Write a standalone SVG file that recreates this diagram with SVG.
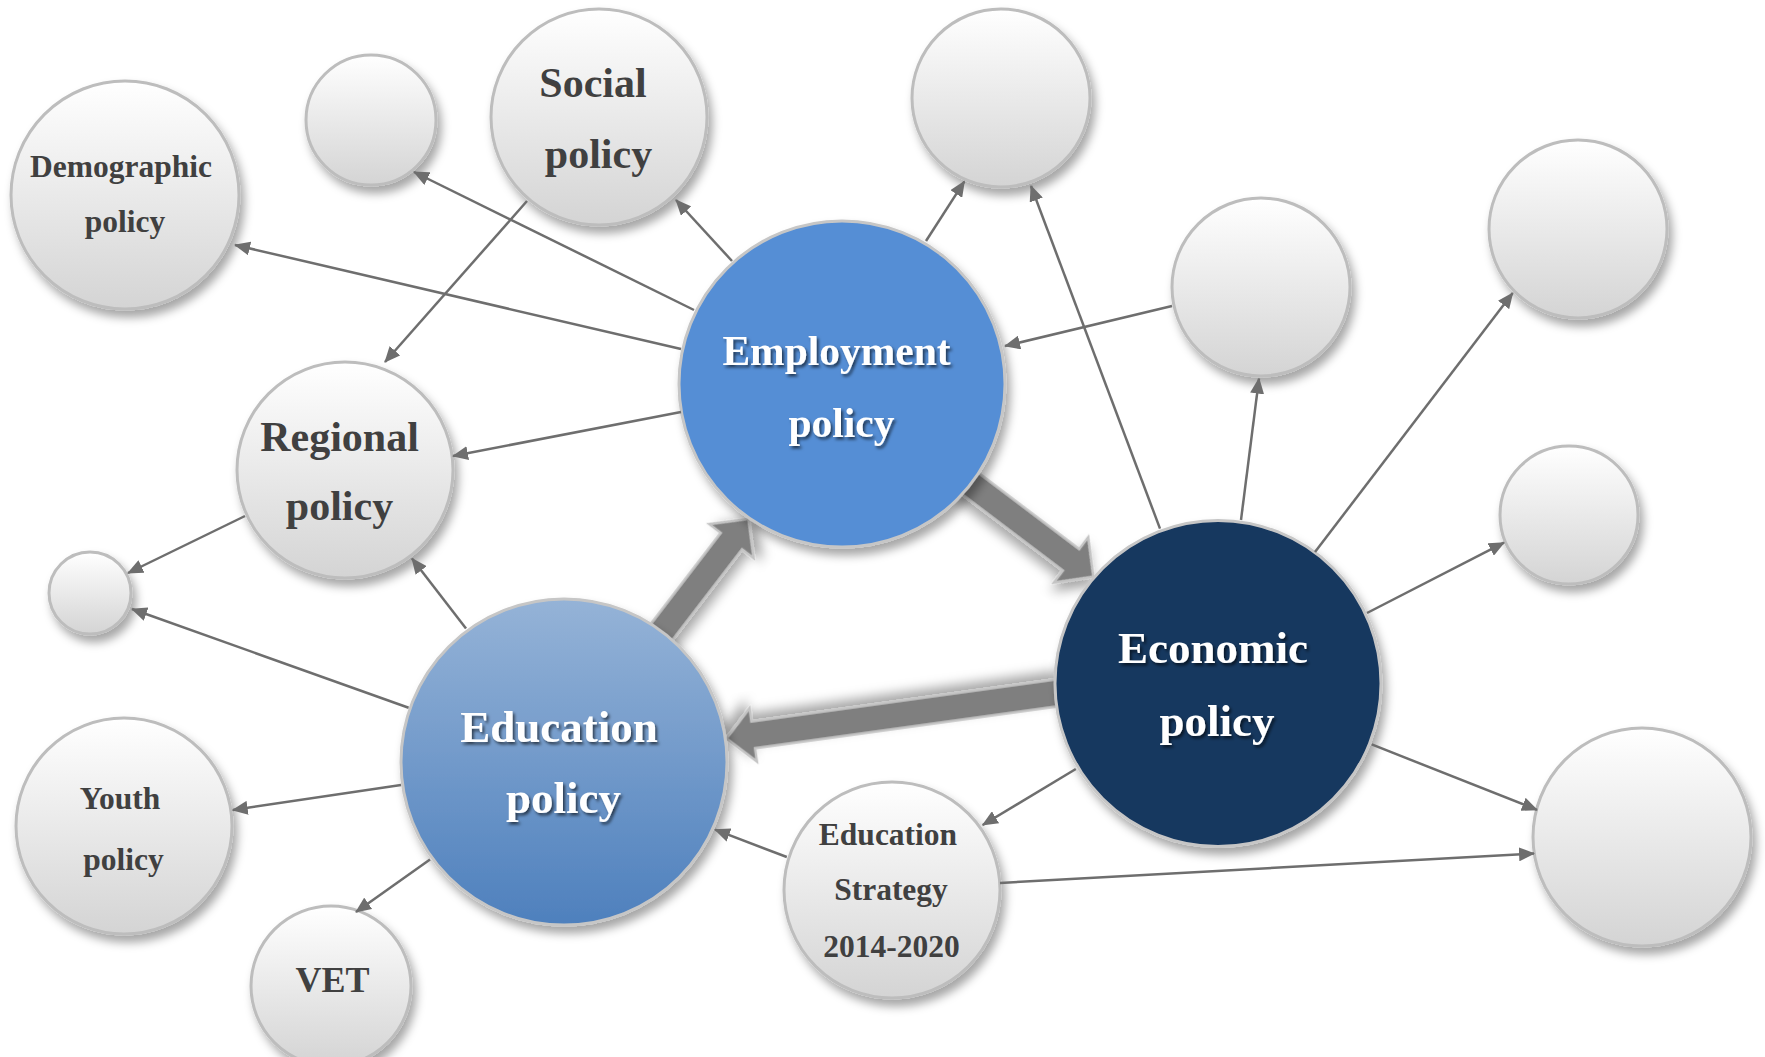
<svg xmlns="http://www.w3.org/2000/svg" width="1765" height="1057" viewBox="0 0 1765 1057">
<defs>
<style>
.g{fill:url(#gGray);stroke:#bdbdbd;stroke-width:3;filter:url(#sh)}
.emp{fill:#558ED5;stroke:#c6c6c6;stroke-width:3;filter:url(#sh)}
.eco{fill:#17375E;stroke:#c6c6c6;stroke-width:3;filter:url(#sh)}
.edu{fill:url(#gEdu);stroke:#c6c6c6;stroke-width:3;filter:url(#sh)}
.dt{font-family:"Liberation Serif","Times New Roman",serif;font-weight:bold;fill:#404040;text-anchor:middle}
.wt{font-family:"Liberation Serif","Times New Roman",serif;font-weight:bold;fill:#ffffff;text-anchor:middle;filter:url(#tsh)}
.c{stroke:#6e6e6e;stroke-width:2.5;fill:none;marker-end:url(#ah)}
.big{fill:#7f7f7f;stroke:#c4c4c4;stroke-width:2.5;stroke-linejoin:miter;filter:url(#ash)}
</style>
<linearGradient id="gGray" x1="0" y1="0" x2="0" y2="1">
<stop offset="0" stop-color="#ffffff"/>
<stop offset="1" stop-color="#d4d4d4"/>
</linearGradient>
<linearGradient id="gEdu" x1="0" y1="0" x2="0" y2="1">
<stop offset="0" stop-color="#95B3D7"/>
<stop offset="1" stop-color="#4E80BD"/>
</linearGradient>
<filter id="sh" x="-30%" y="-30%" width="160%" height="160%">
<feDropShadow dx="4" dy="7" stdDeviation="5" flood-color="#000" flood-opacity="0.35"/>
</filter>
<filter id="ash" x="-30%" y="-30%" width="160%" height="160%">
<feDropShadow dx="4" dy="7" stdDeviation="6" flood-color="#000" flood-opacity="0.35"/>
</filter>
<filter id="tsh" x="-20%" y="-30%" width="140%" height="160%">
<feDropShadow dx="2" dy="2.5" stdDeviation="1.5" flood-color="#000" flood-opacity="0.6"/>
</filter>
<marker id="ah" markerUnits="userSpaceOnUse" markerWidth="16" markerHeight="14" refX="15" refY="7" orient="auto">
<path d="M0,0 L16,7 L0,14 z" fill="#6e6e6e"/>
</marker>
</defs>
<rect width="1765" height="1057" fill="#ffffff"/>

<g id="thick-connectors">
<polygon class="big" transform="translate(638.9,661.7) rotate(-52.5)" points="0,-13.5 152,-13.5 152,-28 180,0 152,28 152,13.5 0,13.5"/>
<polygon class="big" transform="translate(957.8,474.2) rotate(37.1)" points="0,-13.5 142,-13.5 142,-28.5 170,0 142,28.5 142,13.5 0,13.5"/>
<polygon class="big" transform="translate(1063.3,692) rotate(172.13)" points="0,-13.5 313,-13.5 313,-27 340,0 313,27 313,13.5 0,13.5"/>
</g>

<g id="n-demographic"><circle class="g" cx="125" cy="195" r="114"/>
<text class="dt" font-size="31.5" x="121" y="177">Demographic</text>
<text class="dt" font-size="31.5" x="125" y="231.5">policy</text></g>
<g id="n-small-top"><circle class="g" cx="371" cy="120" r="65"/></g>
<g id="n-social"><circle class="g" cx="599" cy="117" r="108"/>
<text class="dt" font-size="42" x="593" y="97">Social</text>
<text class="dt" font-size="42" x="598.5" y="168">policy</text></g>
<g id="n-top-empty"><circle class="g" cx="1001" cy="98" r="89"/></g>
<g id="n-mid-empty"><circle class="g" cx="1261" cy="287" r="89"/></g>
<g id="n-right-top-empty"><circle class="g" cx="1578" cy="229" r="89"/></g>
<g id="n-regional"><circle class="g" cx="345" cy="470" r="108"/>
<text class="dt" font-size="42" x="339.5" y="450.5">Regional</text>
<text class="dt" font-size="42" x="339.5" y="519.5">policy</text></g>
<g id="n-small-left"><circle class="g" cx="90" cy="593" r="41"/></g>
<g id="n-right-mid-empty"><circle class="g" cx="1569" cy="515" r="69"/></g>
<g id="n-youth"><circle class="g" cx="124" cy="826" r="108"/>
<text class="dt" font-size="31.5" x="120" y="809">Youth</text>
<text class="dt" font-size="31.5" x="123.5" y="869.5">policy</text></g>
<g id="n-vet"><circle class="g" cx="331" cy="986" r="80"/>
<text class="dt" font-size="36" x="332.5" y="992">VET</text></g>
<g id="n-edu-strategy"><circle class="g" cx="892" cy="890" r="108"/>
<text class="dt" font-size="31.5" x="888" y="844.5">Education</text>
<text class="dt" font-size="31.5" x="891" y="900">Strategy</text>
<text class="dt" font-size="31.5" x="891.5" y="956.5">2014-2020</text></g>
<g id="n-bottom-right-empty"><circle class="g" cx="1642" cy="837" r="109"/></g>
<g id="n-employment"><circle class="emp" cx="842" cy="384" r="163"/>
<text class="wt" font-size="41.5" x="836.5" y="364.5">Employment</text>
<text class="wt" font-size="41.5" x="841.5" y="436.5">policy</text></g>
<g id="n-economic"><circle class="eco" cx="1218" cy="683.5" r="163"/>
<text class="wt" font-size="45" x="1213" y="662.5">Economic</text>
<text class="wt" font-size="45" x="1217" y="736">policy</text></g>
<g id="n-education"><circle class="edu" cx="564" cy="762" r="163"/>
<text class="wt" font-size="45" x="559" y="741.5">Education</text>
<text class="wt" font-size="45" x="563.5" y="812.5">policy</text></g>

<g id="connectors">
<line class="c" x1="694" y1="310" x2="414" y2="172"/>
<line class="c" x1="681" y1="349" x2="235" y2="245"/>
<line class="c" x1="732" y1="261" x2="676" y2="200"/>
<line class="c" x1="527" y1="201" x2="385" y2="362"/>
<line class="c" x1="681" y1="412" x2="453" y2="456"/>
<line class="c" x1="245" y1="516" x2="128" y2="573"/>
<line class="c" x1="466" y1="628.6" x2="412" y2="558.6"/>
<line class="c" x1="408.6" y1="707.8" x2="132" y2="609"/>
<line class="c" x1="401" y1="785" x2="232.7" y2="810"/>
<line class="c" x1="430" y1="859.5" x2="356" y2="912"/>
<line class="c" x1="926" y1="241" x2="964.4" y2="181.4"/>
<line class="c" x1="1160" y1="528.6" x2="1031" y2="186"/>
<line class="c" x1="1172" y1="306" x2="1005" y2="346"/>
<line class="c" x1="1241" y1="520" x2="1259" y2="378.6"/>
<line class="c" x1="1315" y1="552" x2="1512.7" y2="293"/>
<line class="c" x1="1367" y1="613" x2="1504" y2="542.6"/>
<line class="c" x1="1371.7" y1="744.4" x2="1537" y2="809.8"/>
<line class="c" x1="1075.8" y1="769" x2="982.7" y2="825"/>
<line class="c" x1="786.8" y1="857" x2="715" y2="829.7"/>
<line class="c" x1="1000" y1="883" x2="1534" y2="853.5"/>
</g>
</svg>
